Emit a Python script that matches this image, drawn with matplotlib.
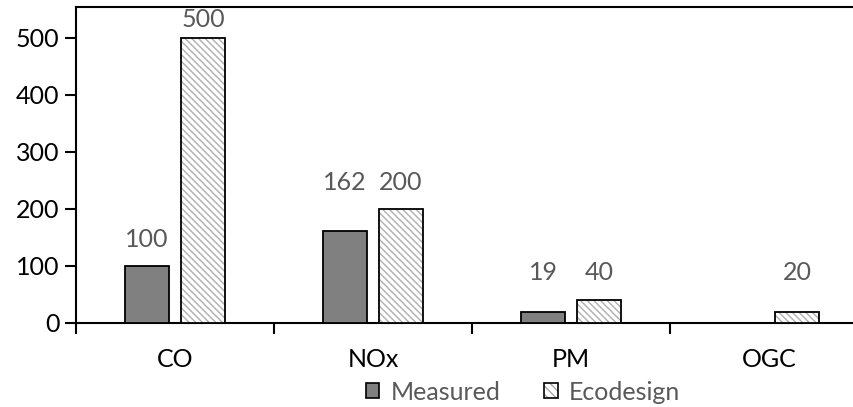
import matplotlib
matplotlib.use("Agg")
import matplotlib.pyplot as plt
from matplotlib.patches import Patch
from matplotlib.legend_handler import HandlerTuple
import numpy as np

categories = ["CO", "NOx", "PM", "OGC"]
measured = [100, 162, 19, None]
ecodesign = [500, 200, 40, 20]
yticks = [0, 100, 200, 300, 400, 500]
# vertical centres of the value labels (data units), as placed in the reference
label_y_measured = [146, 247, 89, None]
label_y_ecodesign = [532, 247, 89, 89]

plt.rcParams['font.family'] = ['Lato', 'DejaVu Sans']
plt.rcParams['hatch.linewidth'] = 1.0

FS = 18
fig = plt.figure(figsize=(8.54, 4.07), dpi=100)
ax = fig.add_axes([76/854, 84/407, 792/854, 316/407])

x = np.arange(len(categories))
w = 0.22
off = 0.141
gray_txt = "#595959"
hatch = "\\\\\\\\\\"

mx = x - off
ex = x + off
for xi, v, ly in zip(mx, measured, label_y_measured):
    if v is None:
        continue
    ax.bar(xi, v, w, color="#808080", edgecolor="black", linewidth=1.3, zorder=3)
    ax.text(xi, ly, str(v), ha="center", va="center", fontsize=FS, color=gray_txt)
for xi, v, ly in zip(ex, ecodesign, label_y_ecodesign):
    ax.bar(xi, v, w, color="white", edgecolor="#b0b0b0", hatch=hatch, linewidth=0, zorder=3)
    ax.bar(xi, v, w, color="none", edgecolor="black", linewidth=1.3, zorder=4)
    ax.text(xi, ly, str(v), ha="center", va="center", fontsize=FS, color=gray_txt)

ax.set_xlim(-0.5, len(categories) - 0.5)
ax.set_ylim(0, 554)
ax.set_yticks(yticks)
ax.set_yticklabels([str(t) for t in yticks], fontsize=FS)
ax.set_xticks(x)
ax.set_xticklabels(categories, fontsize=FS)
ax.set_xticks(np.arange(-0.5, len(categories) + 0.5, 1), minor=True)
ax.tick_params(axis='x', which='major', length=0, pad=18)
ax.tick_params(axis='x', which='minor', length=8, width=1.5, direction='out')
ax.tick_params(axis='y', length=8, width=1.5, direction='out', pad=4)
for s in ax.spines.values():
    s.set_linewidth(1.5)

m_handle = Patch(facecolor="#808080", edgecolor="black", linewidth=1.2)
e_h1 = Patch(facecolor="white", edgecolor="#a6a6a6", hatch="\\\\\\\\", linewidth=0)
e_h2 = Patch(facecolor="none", edgecolor="black", linewidth=1.2)
leg = fig.legend([m_handle, (e_h1, e_h2)], ["Measured", "Ecodesign"],
                 handler_map={tuple: HandlerTuple(ndivide=1, pad=0)},
                 loc="center", bbox_to_anchor=(523/854, 1 - 392/407), ncol=2,
                 frameon=False, fontsize=FS, handlelength=0.55, handleheight=0.55,
                 handletextpad=0.45, columnspacing=1.75, labelcolor=gray_txt)

fig.savefig("out.png", dpi=100)
